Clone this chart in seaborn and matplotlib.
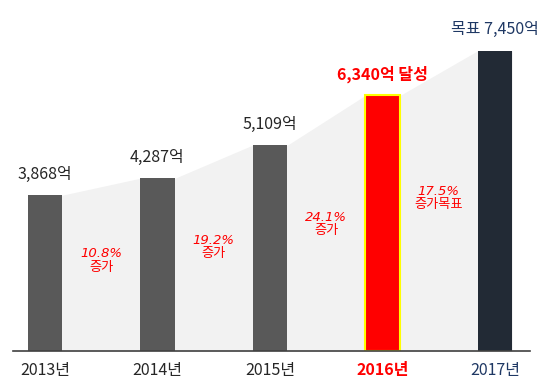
import numpy as np
import pandas as pd
import matplotlib
matplotlib.use("Agg")
import matplotlib.pyplot as plt
import seaborn as sns

# 데이터
years = ["2013년", "2014년", "2015년", "2016년", "2017년"]
sales = [3868, 4287, 5109, 6340, 7450]
value_labels = ["3,868억", "4,287억", "5,109억", "6,340억 달성", "목표 7,450억"]
growth_labels = ["10.8%\n증가", "19.2%\n증가", "24.1%\n증가", "17.5%\n증가목표"]

bar_colors = ["#595959", "#595959", "#595959", "#ff0000", "#222a35"]
text_colors = ["#262626", "#262626", "#262626", "#ff0000", "#1f3864"]

sns.set_theme(style="white")
plt.rcParams["font.family"] = ["Noto Sans CJK KR", "DejaVu Sans"]

df = pd.DataFrame({"year": years, "sales": sales})

fig = plt.figure(figsize=(5.47, 3.88), dpi=100)
ax = fig.add_axes([13 / 547, 37 / 388, (530 - 13) / 547, 351 / 388])

w = 0.31
# 배경 영역 (막대 윗변을 잇는 회색 면)
xs, ys = [], []
for i, v in enumerate(sales):
    xs += [i - w / 2, i + w / 2]
    ys += [v, v]
ax.fill_between(xs, 0, ys, color="#f2f2f2", lw=0, zorder=0)

sns.barplot(data=df, x="year", y="sales", hue="year", palette=bar_colors,
            width=w, legend=False, ax=ax, saturation=1, zorder=2)
for i, p in enumerate(ax.patches):
    p.set_edgecolor("#ffff00" if i == 3 else "none")
    p.set_linewidth(1.5 if i == 3 else 0)

ax.set_xlim(-(45 - 13) / 112.5, (530 - 45) / 112.5)
ax.set_ylim(0, 351 / 0.0403)

# 값 라벨
for i, (v, lab) in enumerate(zip(sales, value_labels)):
    bold = i == 3
    ax.annotate(lab, (i, v), xytext=(0, 15), textcoords="offset points",
                ha="center", va="center", fontsize=11.5,
                color=text_colors[i], fontweight="bold" if bold else "normal")

# 증가율 라벨
for i, lab in enumerate(growth_labels):
    y = 0.55 * (sales[i] + sales[i + 1]) / 2
    ax.text(i + 0.5, y, lab, ha="center", va="center", fontsize=9.5,
            color="#ff0000", style="italic", linespacing=1.05,
            family=["DejaVu Sans", "Noto Sans CJK KR"])

ax.set_xlabel("")
ax.set_ylabel("")
ax.set_yticks([])
ax.tick_params(axis="x", length=0, pad=8, labelsize=11.5)
for i, t in enumerate(ax.get_xticklabels()):
    t.set_color(text_colors[i])
    if i == 3:
        t.set_fontweight("bold")

for s in ["top", "right", "left"]:
    ax.spines[s].set_visible(False)
ax.spines["bottom"].set_color("#404040")
ax.spines["bottom"].set_linewidth(1.2)
ax.patch.set_alpha(0)

fig.savefig("out.png", dpi=100)
